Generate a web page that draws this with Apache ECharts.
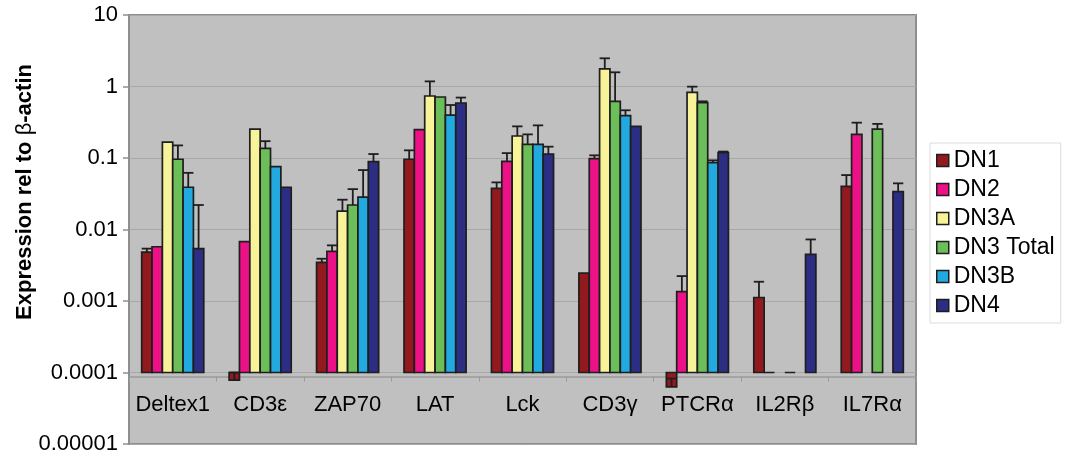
<!DOCTYPE html>
<html>
<head>
<meta charset="utf-8">
<script src="https://cdn.jsdelivr.net/npm/echarts@6/dist/echarts.min.js"></script>
<style>
  html, body { margin: 0; padding: 0; background: #fff; }
  #chart { width: 1081px; height: 459px; }
</style>
</head>
<body>
<div id="chart"></div>
<script>
// Genes on the category axis
const categories = ['Deltex1', 'CD3ε', 'ZAP70', 'LAT', 'Lck', 'CD3γ', 'PTCRα', 'IL2Rβ', 'IL7Rα'];

// Expression relative to β-actin (null = not measured)
const dn1      = [0.00483, 0.000078, 0.00347, 0.096, 0.0376, 0.00245, 0.000063, 0.00112, 0.0401];
const dn2      = [0.00574, 0.00675, 0.00493, 0.249, 0.0897, 0.0977, 0.00135, 0.0001, 0.214];
const dn3a     = [0.167, 0.254, 0.0181, 0.736, 0.203, 1.76, 0.83, null, null];
const dn3Total = [0.096, 0.136, 0.022, 0.713, 0.155, 0.621, 0.594, 0.0001, 0.254];
const dn3b     = [0.039, 0.0757, 0.0284, 0.399, 0.155, 0.392, 0.0859, null, null];
const dn4      = [0.0054, 0.039, 0.089, 0.588, 0.1135, 0.277, 0.1186, 0.00448, 0.0338];

// Upper end of the error bar for each value (null = no error bar)
const dn1Err      = [0.0054, 0.0001, 0.0039, 0.128, 0.0456, null, 0.0000824, 0.00186, 0.0577];
const dn2Err      = [null, null, 0.006, null, 0.117, 0.109, 0.00223, null, 0.312];
const dn3aErr     = [null, null, 0.0261, 1.18, 0.277, 2.48, 0.995, null, null];
const dn3TotalErr = [0.150, 0.172, 0.0367, null, 0.214, 1.58, 0.62, null, 0.30];
const dn3bErr     = [0.062, null, 0.0678, 0.551, 0.286, 0.465, 0.0927, null, null];
const dn4Err      = [0.022, null, 0.1136, 0.70, 0.144, null, 0.123, 0.00726, 0.0442];

const seriesNames = ['DN1', 'DN2', 'DN3A', 'DN3 Total', 'DN3B', 'DN4'];
const seriesValues = [dn1, dn2, dn3a, dn3Total, dn3b, dn4];
const seriesErrors = [dn1Err, dn2Err, dn3aErr, dn3TotalErr, dn3bErr, dn4Err];
const seriesColors = ['#921a1f', '#ec1187', '#f8f299', '#6cbe58', '#22a9e0', '#2b2e83'];

// Log axis: tick labels per decade, and the level the bars grow from
const yTickLabels = ['0.00001', '0.0001', '0.001', '0.01', '0.1', '1', '10'];
const Y_MIN = 0.00001;
const Y_MAX = 10;
const BAR_BASE = 0.0001;

const FONT = '"Liberation Sans", Arial, sans-serif';
const GROUP_FRACTION = 0.71;
const EDGE = '#1e1e1e';

const chart = echarts.init(document.getElementById('chart'), null, { renderer: 'canvas' });

function makeRenderer(sIdx) {
  return function (params, api) {
    const ci = api.value(0);
    const v = api.value(1);
    const e = api.value(2);
    const bandW = api.size([1, 0])[0];
    const w = bandW * GROUP_FRACTION / seriesNames.length;
    const center = api.coord([ci, BAR_BASE]);
    const x0 = center[0] - bandW * GROUP_FRACTION / 2 + sIdx * w;
    const baseY = center[1];
    const topY = api.coord([ci, v])[1];
    const children = [{
      type: 'rect',
      shape: { x: x0, y: Math.min(baseY, topY), width: w, height: Math.abs(baseY - topY) },
      style: { fill: api.visual('color'), stroke: EDGE, lineWidth: 1.7 }
    }];
    if (e != null && !isNaN(e)) {
      const eY = api.coord([ci, e])[1];
      const cx = x0 + w / 2;
      children.push({
        type: 'line', z2: 10,
        shape: { x1: cx, y1: topY, x2: cx, y2: eY },
        style: { stroke: EDGE, lineWidth: 1.8 }
      });
      children.push({
        type: 'line', z2: 10,
        shape: { x1: x0, y1: eY, x2: x0 + w, y2: eY },
        style: { stroke: EDGE, lineWidth: 1.8 }
      });
    }
    return { type: 'group', children: children };
  };
}

const series = seriesNames.map(function (name, sIdx) {
  const data = [];
  seriesValues[sIdx].forEach(function (v, ci) {
    if (v != null) {
      const e = seriesErrors[sIdx][ci];
      data.push([ci, v, e == null ? NaN : e]);
    }
  });
  return {
    name: name,
    type: 'custom',
    renderItem: makeRenderer(sIdx),
    encode: { x: 0, y: 1 },
    itemStyle: { color: seriesColors[sIdx], borderColor: EDGE, borderWidth: 1.5 },
    data: data,
    clip: false,
    animation: false
  };
});

const option = {
  animation: false,
  backgroundColor: '#ffffff',
  grid: {
    left: 129, right: 165, top: 15, bottom: 15,
    show: true,
    backgroundColor: '#c0c0c0',
    borderColor: '#8e8e8e',
    borderWidth: 2
  },
  legend: {
    orient: 'vertical',
    left: 930, top: 143,
    padding: [6, 6, 6, 6],
    itemGap: 6,
    itemWidth: 12, itemHeight: 12,
    icon: 'rect',
    borderColor: '#dcdcdc', borderWidth: 1,
    backgroundColor: '#ffffff',
    itemStyle: { borderColor: EDGE, borderWidth: 1.5 },
    textStyle: { fontFamily: FONT, fontSize: 23, color: '#000', padding: [0, 0, 0, 0] },
    data: seriesNames
  },
  xAxis: {
    type: 'category',
    data: categories,
    position: 'bottom',
    offset: 0,
    axisLine: { show: true, lineStyle: { color: '#9a9a9a', width: 1.5 } },
    axisTick: { show: true, length: 5, lineStyle: { color: '#9a9a9a', width: 1 } },
    axisLabel: { interval: 0, fontFamily: FONT, fontSize: 22, color: '#000', margin: 17 },
    splitLine: { show: false }
  },
  yAxis: {
    type: 'log',
    logBase: 10,
    min: Y_MIN,
    max: Y_MAX,
    interval: 1,
    axisLine: { show: true, lineStyle: { color: '#8e8e8e', width: 1.5 } },
    axisTick: { show: true, length: 6, lineStyle: { color: '#8e8e8e', width: 1.5 } },
    axisLabel: {
      fontFamily: FONT, fontSize: 22, color: '#000', margin: 11,
      formatter: function (val) {
        const idx = Math.round(Math.log10(val) - Math.log10(Y_MIN));
        return yTickLabels[idx] != null ? yTickLabels[idx] : '';
      }
    },
    splitLine: { show: true, lineStyle: { color: '#a8a8a8', width: 1 } }
  },
  graphic: [{
    type: 'text',
    x: 25, y: 192,
    rotation: Math.PI / 2,
    style: {
      text: '{b|Expression rel to }{g|β}{b|-actin}',
      align: 'center',
      verticalAlign: 'middle',
      rich: {
        b: { fontFamily: FONT, fontSize: 22, fontWeight: 'bold', fill: '#000' },
        g: { fontFamily: FONT, fontSize: 22, fontWeight: 'normal', fill: '#000' }
      }
    }
  }],
  series: series
};

chart.setOption(option);

// Place the category axis on the 0.0001 level, where the bars start
const yBase = chart.convertToPixel({ yAxisIndex: 0 }, BAR_BASE);
const yBottom = chart.convertToPixel({ yAxisIndex: 0 }, Y_MIN);
chart.setOption({ xAxis: { offset: yBase - yBottom } });
</script>
</body>
</html>
